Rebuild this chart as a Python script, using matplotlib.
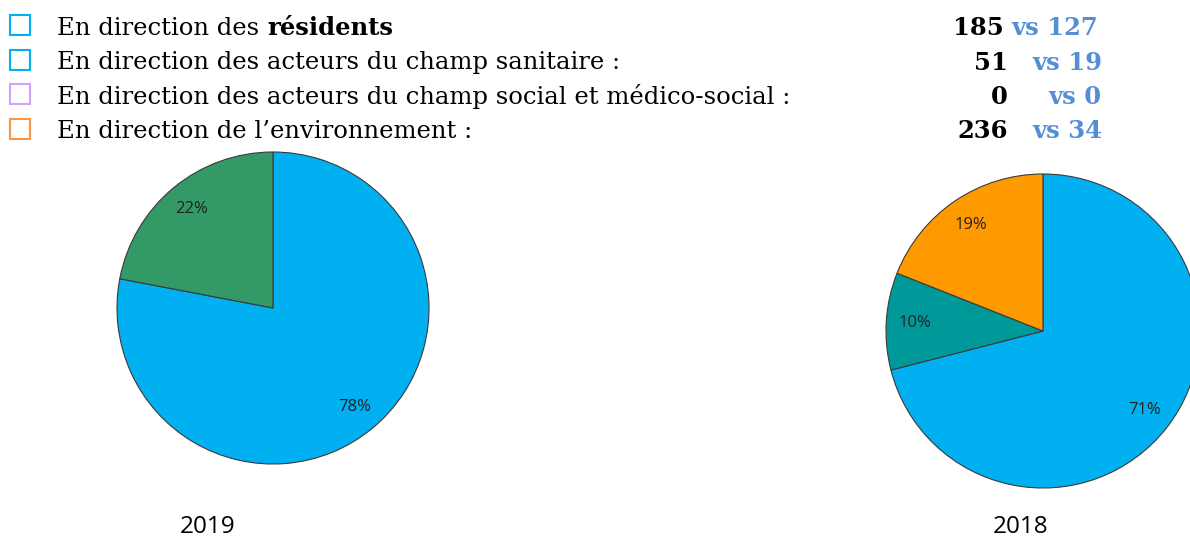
import matplotlib
matplotlib.use("Agg")
import matplotlib.pyplot as plt
from matplotlib.patches import Rectangle
from matplotlib.text import Annotation

W, H = 1190, 538

# légende / texte du haut
lignes = ["En direction des ",
          "En direction des acteurs du champ sanitaire :",
          "En direction des acteurs du champ social et médico-social :",
          "En direction de l\u2019environnement :"]
couleurs_cases = ["#00B0F0", "#00B0F0", "#D2A0FF", "#F79646"]
val_2019 = ["185", "51", "0", "236"]
val_2018 = ["vs 127", "vs 19", "vs 0", "vs 34"]

# camemberts
annees = ["2019", "2018"]
pct_2019 = [78, 22]
coul_2019 = ["#00B0F0", "#339966"]
pct_2018 = [71, 10, 19]
coul_2018 = ["#00B0F0", "#009999", "#FF9900"]

fig = plt.figure(figsize=(W / 100, H / 100), dpi=100)

serif = "DejaVu Serif"
fs = 17.5
bases = [35, 69.5, 104, 138.5]

for i, txt in enumerate(lignes):
    yb = 1 - bases[i] / H
    fig.add_artist(Rectangle((10 / W, yb), 20 / W, 20 / H,
                             transform=fig.transFigure, fill=False,
                             edgecolor=couleurs_cases[i], linewidth=1.5))
    t = fig.text(57 / W, yb, txt, fontsize=fs, family=serif, va="baseline")
    if i == 0:
        # mot en gras collé à la suite du texte
        fig.add_artist(Annotation("résidents", xy=(1, 0), xycoords=t,
                                  va="bottom", fontsize=fs, family=serif,
                                  weight="bold", annotation_clip=False))

    if i == 0:
        fig.text(1004 / W, yb, val_2019[i], ha="right", va="baseline",
                 fontsize=fs, family=serif, weight="bold")
        fig.text(1011 / W, yb, val_2018[i], ha="left", va="baseline",
                 fontsize=fs, family=serif, weight="bold", color="#558ED5")
    else:
        fig.text(1008 / W, yb, val_2019[i], ha="right", va="baseline",
                 fontsize=fs, family=serif, weight="bold")
        fig.text(1102 / W, yb, val_2018[i], ha="right", va="baseline",
                 fontsize=fs, family=serif, weight="bold", color="#558ED5")


def pie_axes(cx, cy, r):
    pad = 1.03
    ax = fig.add_axes([(cx - r * pad) / W, (H - cy - r * pad) / H,
                       2 * r * pad / W, 2 * r * pad / H])
    ax.axis("off")
    return ax


for cx, cy, r, vals, cols in [(273, 308, 156, pct_2019, coul_2019),
                              (1043, 331, 157, pct_2018, coul_2018)]:
    ax = pie_axes(cx, cy, r)
    ax.pie(vals, colors=cols, startangle=90, counterclock=False,
           autopct="%1.0f%%", pctdistance=0.82,
           wedgeprops=dict(edgecolor="#3a3a3a", linewidth=0.8),
           textprops=dict(family="Open Sans", fontsize=12, color="#222222"))
    ax.set_xlim(-1.03, 1.03)
    ax.set_ylim(-1.03, 1.03)

fig.text(207.5 / W, 1 - 533 / H, annees[0], ha="center", va="baseline",
         family="Open Sans", fontsize=17.5)
fig.text(1021 / W, 1 - 533 / H, annees[1], ha="center", va="baseline",
         family="Open Sans", fontsize=17.5)

fig.savefig("out.png", dpi=100)
